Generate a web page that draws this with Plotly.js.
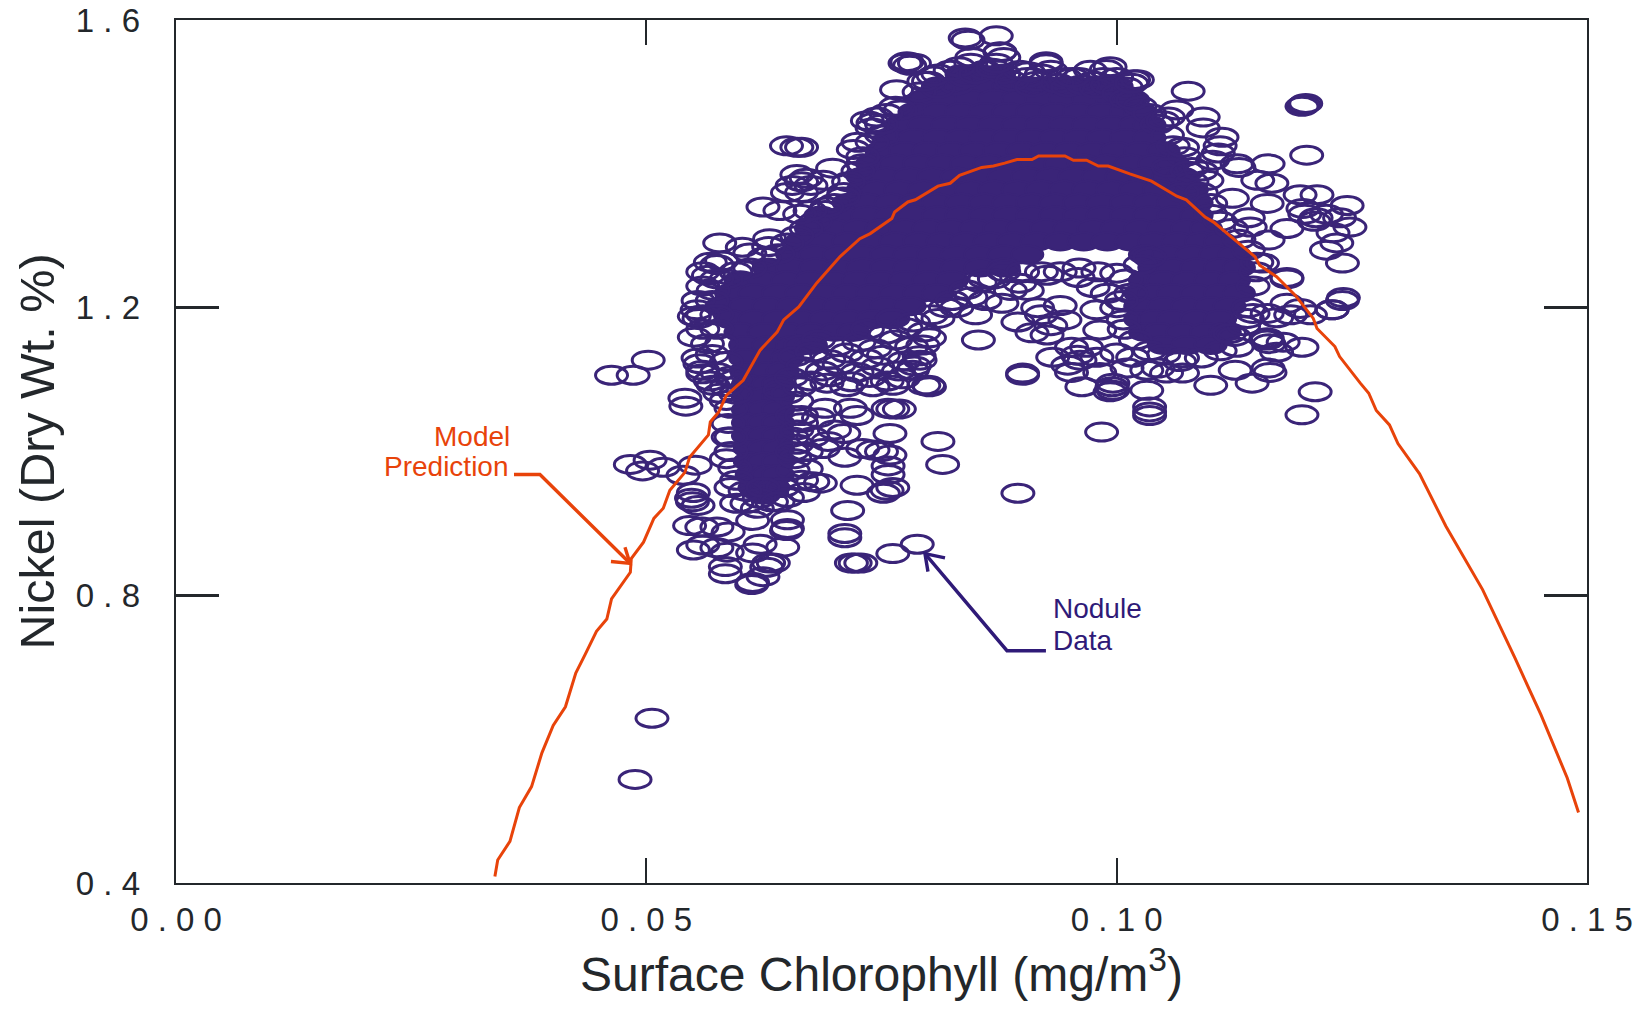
<!DOCTYPE html>
<html><head><meta charset="utf-8">
<script src="https://cdn.plot.ly/plotly-3.0.1.min.js"></script>
<style>html,body{margin:0;padding:0;background:#fff}#chart{width:1648px;height:1010px}</style>
</head><body><div id="chart"></div>
<script>
// Chlorophyll values below are written in 10^-3 mg/m3 to keep the lists short.
var xTickVals=[0,0.05,0.10,0.15];
var xTickText=['0 . 0 0','0 . 0 5','0 . 1 0','0 . 1 5'];
var yTickVals=[0.4,0.8,1.2,1.6];
var yTickText=['0 . 4','0 . 8','1 . 2','1 . 6'];

var modelX=[33.9,34.2,35.5,36.5,37.8,38.9,40.1,41.4,42.5,43.5,44.7,45.8,46.3,48.3,48.4,49.7,50.8,51.8,52.5,54.1,54.6,56.6,56.8,57.7,58.5,60.3,62.1,63.9,64.6,66.2,68.1,70.6,72.7,73.8,76.1,76.4,77.8,78.6,81,82.3,83.3,85.65,86.9,88.1,89.4,91,91.7,94.5,95.4,96.8,98.05,99.1,101.4,103.7,106.4,107.4,109.4,110.3,112.4,114.7,115.2,117,119,120.9,121.3,123.2,123.7,125.9,126.8,127.6,129,129.9,132.2,135,138.9,142.3,145.1,147.9,149.1];
var modelY=[.409,.432,.458,.505,.534,.581,.619,.645,.692,.718,.75,.767,.795,.832,.851,.874,.907,.921,.946,.971,.992,1.023,1.041,1.055,1.078,1.099,1.141,1.166,1.183,1.201,1.234,1.271,1.296,1.303,1.324,1.333,1.347,1.35,1.369,1.373,1.384,1.395,1.397,1.401,1.406,1.406,1.411,1.411,1.405,1.405,1.397,1.397,1.386,1.376,1.355,1.35,1.326,1.319,1.296,1.271,1.259,1.243,1.217,1.185,1.171,1.146,1.132,1.095,1.081,1.057,1.037,1.011,.969,.896,.808,.714,.634,.546,.498];

// Saturated part of the cloud, where the rings merge: [nickel, [chlorophyll...]]
var denseRows=[
[1.525,[83.5,85.5,87.5]],
[1.508,[81,83.5,86,88.5,90.5,93,95.5,98,100]],
[1.49,[79.5,82,84.5,87,89.5,92,94.5,97,99.5,101.5]],
[1.472,[78.5,81,83.5,86,88.5,91,93.5,96,98.5,101,102.5]],
[1.454,[77,79.5,82,84.5,87,89.5,92,94.5,97,99.5,102,103.5]],
[1.436,[76,78.5,81,83.5,86,88.5,91,93.5,96,98.5,101,103.5]],
[1.418,[75,77.5,80,82.5,85,87.5,90,92.5,95,97.5,100,102.5,105]],
[1.4,[74,76.5,79,81.5,84,86.5,89,91.5,94,96.5,99,101.5,104,106]],
[1.382,[73,75.5,78,80.5,83,85.5,88,90.5,93,95.5,98,100.5,103,105.5,107]],
[1.364,[73,74.5,77,79.5,82,84.5,87,89.5,92,94.5,97,99.5,102,104.5,107,108]],
[1.346,[71.5,73.5,76,78.5,81,83.5,86,88.5,91,93.5,96,98.5,101,103.5,106,108.5]],
[1.328,[68.5,71,73.5,76,78.5,81,83.5,86,88.5,91,93.5,96,98.5,101,103.5,106,108.5]],
[1.31,[67.5,70,72.5,75,77.5,80,82.5,85,87.5,90,92.5,95,97.5,100,102.5,105,107.5,109.5]],
[1.292,[66.5,69,71.5,74,76.5,79,81.5,84,86.5,89,91.5,94,96.5,99,101.5,104,106.5,109,111]],
[1.274,[65.5,68,70.5,73,75.5,78,80.5,83,85.5,88,90.5,103,105.5,108,110.5,112.5]],
[1.256,[63,65.5,68,70.5,73,75.5,78,80.5,83,85.5,88,104,106,108.5,111,113]],
[1.238,[60,62.5,65,67.5,70,72.5,75,77.5,80,82.5,103,105,107.5,110,112.5]],
[1.22,[59,61.5,64,66.5,69,71.5,74,76.5,79,81,102.5,104,106,108.5,111,113]],
[1.202,[58,60.5,63,65.5,68,70.5,73,75.5,78,102.5,105,107.5,110,112]],
[1.184,[59,61.5,64,66.5,69,71.5,74,76,102.5,104,106,108.5,111]],
[1.166,[60,62.5,65,67.5,70,72,103,104.5,107,109.5,111.5]],
[1.148,[60.5,63,65.5,67.5,105,107.5,110]],
[1.13,[60.5,63,65]],
[1.112,[60.6,63,64.5]],
[1.094,[60.8,63,64]],
[1.076,[60.8,62.5,64]],
[1.058,[60.8,62.5,64]],
[1.04,[60.8,62.5,64]],
[1.022,[60.8,62.5,64]],
[1.004,[61,62.5,64]],
[.986,[61,62.5,64]],
[.968,[61.2,63,64]],
[.95,[61.5,63.5]],
[.94,[62.5]]
];

// Separately readable rings: [chlorophyll, nickel]
var ringPoints=[
[87.2,1.578],[84.2,1.572],[87.6,1.556],[84.6,1.548],[88,1.548],[77.7,1.542],[77.5,1.54],[78,1.537],[78.5,1.54],[84.5,1.54],[92.5,1.539],[92,1.525],[93,1.53],[90.5,1.52],[91.5,1.515],[96,1.52],[97.5,1.515],[98.9,1.531],[98.6,1.52],[100,1.52],[101.8,1.517],[101,1.507],[83,1.51],[80,1.515],[81,1.525],[86,1.53],[88,1.525],[94.5,1.52],[79,1.5],[81,1.505],[84,1.52],[76.6,1.503],[76.5,1.48],[77,1.475],
[79.5,1.515],[80.5,1.522],[82.3,1.53],[83.2,1.535],[85,1.525],[86.8,1.533],[88.9,1.515],[89.7,1.53],[91,1.507],[93.7,1.512],[94.8,1.507],[96.4,1.51],[97.8,1.505],[99,1.51],[100.2,1.498],[101,1.49],[102.5,1.48],[103.5,1.47],[104.3,1.455],[105.4,1.44],[106,1.425],[107.2,1.41],[108,1.395],
[75.5,1.47],[75,1.44],[74,1.43],[73,1.4],[72.5,1.39],[71.5,1.375],[71,1.36],[70,1.345],[69,1.335],[68,1.32],[67,1.31],[66,1.3],[65,1.29],[64,1.275],[62.5,1.27],[61,1.255],[59.5,1.25],[58.5,1.24],[58,1.265],
[73.5,1.46],[74.5,1.465],[74.1,1.457],[74,1.45],[75,1.455],[72,1.42],[72.5,1.43],[73,1.41],[64.9,1.425],[66,1.423],[66.5,1.423],[69.8,1.394],[66,1.385],[66.5,1.375],[67,1.38],[65.5,1.37],[67.5,1.37],[68.8,1.377],[65,1.36],[66.5,1.36],[62.4,1.34],[70.9,1.354],[69.2,1.34],[64.2,1.335],[66.3,1.33],[67.4,1.335],
[57.8,1.29],[60.2,1.284],[63.1,1.296],[63,1.285],[56.8,1.263],[56.6,1.245],[61,1.276],[57.1,1.224],[55.4,1.197],[55.6,1.185],[55.1,1.188],[55.1,1.159],[55.7,1.122],[56,1.108],[56.8,1.098],[58.5,1.071],[55.5,1.13],[56,1.113],[57.1,1.092],[57.8,1.081],[54.1,1.074],[54.2,1.063],
[46.3,1.106],[48.6,1.106],[50.2,1.127],[48.3,.982],[50.4,.988],[49.6,.973],[51.8,.978],[53.9,.967],[55.2,.981],[55,.943],[54.9,.93],[55.5,.925],[54.8,.935],[54.6,.897],[55.9,.895],[57.5,.895],[58.7,.888],[55,.863],[56,.87],[57.5,.866],[58.6,.86],[58.4,.83],[58.4,.84],[61.3,.818],[61.2,.815],[62.8,.839],[63,.845],[62.4,.826],[63.5,.845],[64.5,.867],[62.1,.871],[61.3,.859],[61.3,.904],[65,.893],[65,.905],[64.9,.89],[59.6,.928],[60.7,.928],[61.8,.921],[59.4,.977],[59.6,.96],[65,.936],[66.7,.943],[68.5,.956],[67,.976],[67.7,.958],[65.6,.974],[58.7,1.039],[58.7,1.02],
[65,1.08],[66,1.07],[65.5,1.05],[66.5,1.04],[65.5,1.02],[66,1.01],[65.8,.99],[66.5,.96],[64.5,.95],[63.3,.93],[62,.935],[60.5,.945],[59,.95],[58.5,.99],[59,1.0],[59,1.06],[59,1.02],[59.4,1.1],
[72.4,.953],[71.4,.918],[71.1,.886],[71.1,.88],[72.2,.845],[71.8,.845],[72.8,.845],[76.2,.858],[78.8,.871],[81,1.014],[81.5,.982],[89.5,.942],[75.6,.946],[75.2,.942],[76.2,.95],[75.7,.968],[75.7,.98],[75.9,.995],[74.1,1.002],[73,1.004],[75,1],[75.9,1.025],[71.1,.992],[68.8,1.004],[69.3,1.014],[67.7,1.02],[71,1.025],[68.3,1.047],[71.7,1.06],[72.4,1.05],[70,1.03],[76.2,1.059],[75.7,1.06],[76.9,1.059],[80,1.092],[80.1,1.09],[79.5,1.092],[76.2,1.092],[85.3,1.155],[90,1.106],[62.4,.95],[64,.93],[67,1.0],[66,1.03],[66.5,1.05],[69,1.06],[65.5,1.0],
[66.3,1.09],[69.2,1.095],[71.3,1.09],[74.1,1.09],[78.3,1.113],[79.1,1.127],[79.4,1.148],[64.2,1.085],
[66.4,1.148],[68.3,1.155],[70.2,1.146],[72.6,1.152],[74.3,1.143],[76.5,1.155],[78.2,1.146],[80.1,1.158],[65.8,1.132],[67.6,1.138],[69.4,1.128],[71.3,1.137],[73.4,1.129],[75.2,1.134],[77.4,1.126],[79,1.133],[66.6,1.118],[68.7,1.112],[70.5,1.121],[72.4,1.11],[74.6,1.118],[76.8,1.112],[78.5,1.119],[65.4,1.103],[67.5,1.098],[69.5,1.104],[71.8,1.097],[73.7,1.103],[75.6,1.098],[77.3,1.101],[73.5,1.17],[75.4,1.163],[77.6,1.172],[79.5,1.166],[76.2,1.185],[78.4,1.18],[80.3,1.19],[81.8,1.2],[82.5,1.21],[84,1.225],[85.5,1.235],[87,1.24],
[56,1.25],[57.5,1.26],[56,1.23],[57.5,1.24],[55.5,1.21],[57,1.21],[56,1.19],[57.5,1.19],[56,1.17],[57.5,1.17],[56.5,1.15],[58,1.15],[57,1.135],[58.5,1.125],[57.5,1.11],[59,1.105],[58.5,1.09],[59.5,1.08],
[92.6,1.245],[90,1.109],[96.3,1.09],[99.3,1.083],[103.2,1.085],[103.5,1.062],[103.5,1.05],[103.5,1.055],[98.4,1.027],[110,1.092],[114.4,1.095],[116.1,1.116],[116.3,1.11],[112.6,1.113],[121.1,1.083],[119.7,1.051],[99.6,1.095],[99.6,1.085],[99.5,1.09],[95.2,1.11],[94.8,1.12],[96.1,1.127],[93.2,1.131],[92.6,1.162],[93,1.175],[94.5,1.183],[91.6,1.2],[92,1.19],[94,1.203],[98.2,1.11],[101.1,1.116],[103.2,1.113],[105.3,1.109],[107,1.109],[106.7,1.125],[104.4,1.116],[95.8,1.134],[97.9,1.131],[100,1.137],[95.2,1.145],[98.2,1.169],[97.9,1.197],[97.5,1.228],[95.9,1.242],[100,1.248],[99,1.22],[100,1.2],[100.7,1.183],[96.8,1.145],[89.7,1.234],[90.5,1.224],[88.7,1.224],[87.8,1.206],[101.7,1.131],[86,1.24],[88,1.25],[90,1.25],[92,1.25],[94,1.25],[96,1.255],[98,1.25],[84.5,1.215],[86,1.21],[83,1.2],[81,1.185],[85,1.19],[89.5,1.18],[91,1.165],
[101,1.24],[101.5,1.22],[100.5,1.21],[100.8,1.17],[102,1.155],[103.5,1.14],[105,1.135],[107,1.13],[109,1.13],[111,1.14],[112.5,1.16],[113.5,1.175],[114,1.2],[114.5,1.23],[114.8,1.25],[102.5,1.26],[103.5,1.27],
[116,1.158],[116.2,1.15],[117,1.138],[119.7,1.145],[116,1.155],[117.7,1.152],[113.9,1.185],[112.8,1.145],[112,1.164],[116,1.192],[118.1,1.206],[119.5,1.199],[120.6,1.19],[122.9,1.197],[124.1,1.214],[118.1,1.242],[114.9,1.263],[117,1.186],[118.5,1.19],[114.5,1.192],
[107.6,1.501],[119.9,1.482],[119.7,1.48],[120.1,1.484],[120.2,1.412],[106.4,1.475],[104.9,1.46],[105.5,1.465],[109.2,1.465],[109.2,1.45],[111.2,1.437],[111,1.425],[110.8,1.415],[112.8,1.4],[113,1.395],[116.1,1.4],[115,1.377],[116.5,1.373],[112.3,1.352],[116,1.345],[119.5,1.357],[121.3,1.357],[124.5,1.342],[119.8,1.338],[121.2,1.325],[121,1.32],[120,1.33],[122.3,1.33],[123.7,1.325],[118.1,1.31],[124.8,1.312],[123,1.304],[123.4,1.29],[122.3,1.28],[124,1.262],[116.1,1.294],[118.1,1.24],[124,1.21],[122.9,1.197],[115.5,1.262],[114.2,1.312],[114,1.325],[109.6,1.377],[110.2,1.405],[107,1.423],[102.2,1.517],[99.3,1.535],[101.7,1.489],[92.5,1.542],[83.9,1.575],[87.6,1.555],[87.2,1.54],[95.3,1.52],[97.2,1.53],[101.6,1.512],[90.6,1.528],
[105.5,1.395],[107.5,1.39],[108,1.375],[107,1.36],[109,1.36],[110,1.345],[110,1.33],[111,1.32],[112.2,1.31],[113,1.295],[114,1.28],[109,1.39],
[50.6,.629],[48.8,.544]
];

var modelLeaderX=[35.93,38.69,48.26], modelLeaderY=[.968,.968,.8445];
var modelHeadX=[47.73,48.26,46.24], modelHeadY=[.867,.8445,.847];
var dataLeaderX=[92.48,88.34,79.62], dataLeaderY=[.723,.723,.858];
var dataHeadX=[79.94,79.62,81.75], dataHeadY=[.833,.858,.852];

var ringColor='#3a2478', modelColor='#e8430a', leaderBlue='#2f1a78', inkColor='#23272b';
function k(a){return a.map(function(v){return v/1000;});}
var denseX=[],denseY=[];
denseRows.forEach(function(r){r[1].forEach(function(x){denseX.push(x/1000);denseY.push(r[0]);});});
var ringX=ringPoints.map(function(p){return p[0]/1000;});
var ringY=ringPoints.map(function(p){return p[1];});

function lineTrace(x,y,color,width){return {x:k(x),y:y,type:'scatter',mode:'lines',hoverinfo:'skip',showlegend:false,line:{color:color,width:width,simplify:false}};}
var traces=[
 {x:denseX,y:denseY,type:'scatter',mode:'markers',showlegend:false,name:'Nodule Data (dense)',
  marker:{symbol:'circle',size:20,color:ringColor,line:{color:ringColor,width:2}}},
 {x:ringX,y:ringY,type:'scatter',mode:'markers',showlegend:false,name:'Nodule Data',
  marker:{symbol:'circle-open',size:20,color:ringColor,line:{color:ringColor,width:3}}},
 lineTrace(modelX,modelY,modelColor,3),
 lineTrace(modelLeaderX,modelLeaderY,modelColor,3.4),
 lineTrace(modelHeadX,modelHeadY,modelColor,3.4),
 lineTrace(dataLeaderX,dataLeaderY,leaderBlue,3.4),
 lineTrace(dataHeadX,dataHeadY,leaderBlue,3.4)
];
function note(text,x,y,anchor,color){return {text:text,x:x,y:y,xref:'x',yref:'y',xanchor:anchor,yanchor:'middle',showarrow:false,font:{family:'Liberation Sans',size:28,color:color}};}
var layout={
 width:1648,height:1010,paper_bgcolor:'#fff',plot_bgcolor:'#fff',showlegend:false,
 margin:{l:176,r:61,t:20,b:127,pad:0},
 font:{family:'Liberation Sans',color:inkColor},
 xaxis:{range:[0,0.15],tickmode:'array',tickvals:xTickVals,ticktext:xTickText,ticks:'inside',ticklen:25,tickwidth:2,tickcolor:inkColor,
  showline:true,linecolor:inkColor,linewidth:2.4,mirror:'ticks',showgrid:false,zeroline:false,ticklabelstandoff:6,tickangle:0,
  tickfont:{size:33,color:inkColor},automargin:false,
  title:{text:'Surface Chlorophyll (mg/m<sup>3</sup>)',font:{size:48,color:inkColor},standoff:21}},
 yaxis:{range:[0.4,1.6],tickmode:'array',tickvals:yTickVals,ticktext:yTickText,ticks:'inside',ticklen:43,tickwidth:2.4,tickcolor:inkColor,
  showline:true,linecolor:inkColor,linewidth:2.4,mirror:'ticks',showgrid:false,zeroline:false,ticklabelstandoff:27,
  tickfont:{size:33,color:inkColor},automargin:false,
  title:{text:'Nickel (Dry Wt. %)',font:{size:48.5,color:inkColor},standoff:6}},
 annotations:[
  note('Model',0.03575,1.0215,'right',modelColor),
  note('Prediction',0.03565,0.9795,'right',modelColor),
  note('Nodule',0.09300,0.7819,'left',leaderBlue),
  note('Data',0.09300,0.7374,'left',leaderBlue)
 ]
};
// Plotly has no elliptical marker: keep its positioned points and give them the oval outline.
var rx=16,ry=9;
var oval='M'+(-rx)+',0A'+rx+','+ry+' 0 1,1 '+rx+',0A'+rx+','+ry+' 0 1,1 '+(-rx)+',0Z';
Plotly.newPlot('chart',traces,layout,{displayModeBar:false,staticPlot:true}).then(function(gd){
 gd.querySelectorAll('.scatterlayer .points path.point').forEach(function(p){p.setAttribute('d',oval);});
});
</script></body></html>
